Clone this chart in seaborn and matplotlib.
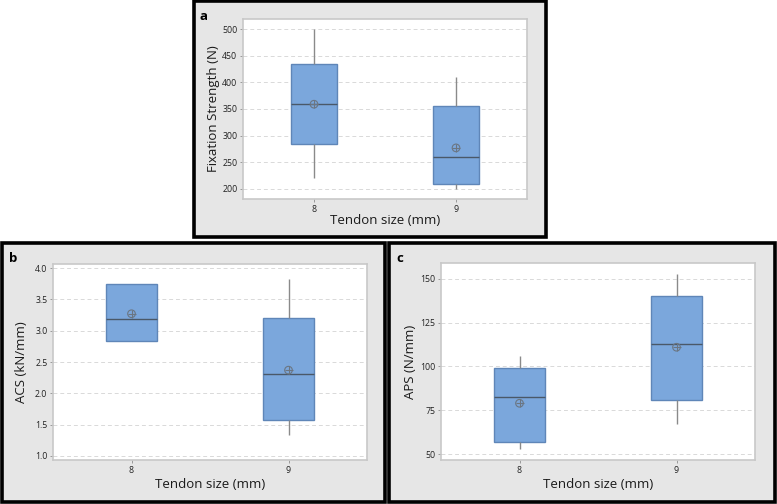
import numpy as np
import pandas as pd
import matplotlib
matplotlib.use("Agg")
import matplotlib.pyplot as plt
from matplotlib.patches import Rectangle
import seaborn as sns

# ==========================================
# DATA (five-number summaries)
# ==========================================
tendon_sizes = ["8", "9"]

# min, Q1, median, Q3, max
fixation_8 = [220, 285, 360, 435, 500]
fixation_9 = [200, 210, 260, 355, 410]
fixation_mean = [359, 277]

acs_8 = [2.83, 2.83, 3.19, 3.75, 3.75]
acs_9 = [1.33, 1.58, 2.31, 3.20, 3.83]
acs_mean = [3.27, 2.37]

aps_8 = [53, 57, 82.5, 99, 106]
aps_9 = [67, 81, 113, 140.5, 153]
aps_mean = [79, 111]

panel_letters = ["a", "b", "c"]
y_labels = ["Fixation Strength (N)", "ACS (kN/mm)", "APS (N/mm)"]
x_label = "Tendon size (mm)"
y_ticks = [[200, 250, 300, 350, 400, 450, 500],
           [1.0, 1.5, 2.0, 2.5, 3.0, 3.5, 4.0],
           [50, 75, 100, 125, 150]]
y_ticklabels = [[str(t) for t in y_ticks[0]],
                [f"{t:.1f}" for t in y_ticks[1]],
                [str(t) for t in y_ticks[2]]]

# ==========================================
# STYLE
# ==========================================
sns.set_style("white")
plt.rcParams["font.family"] = ["Open Sans", "DejaVu Sans"]

BOX_FILL = "#7ba7dc"
BOX_EDGE = "#5f86b8"
MED_COL = "#4a5868"
WHISK_COL = "#8a8a8a"
PANEL_BG = "#e6e6e6"
FRAME_COL = "#c8c8c8"

W, H = 777, 504
fig = plt.figure(figsize=(W / 100, H / 100), dpi=100)
fig.patch.set_facecolor("white")


def fx(px):
    return px / W


def fy(py):
    return 1 - py / H


# outer panels (pixel boxes: left, top, right, bottom)
outer = [(194, 1, 546, 237), (2, 243, 385, 502), (389, 243, 775, 502)]
for (l, t, r, b) in outer:
    fig.patches.append(Rectangle((fx(l), fy(b)), fx(r - l), (b - t) / H,
                                 transform=fig.transFigure, facecolor=PANEL_BG,
                                 edgecolor="black", linewidth=2.6, zorder=-1))

# plot areas
inner = [(243, 19, 527, 199), (53, 264, 367, 460), (441, 263, 755, 460)]
ylims = [(181, 519), (0.936, 4.064), (46.6, 159.1)]
letter_pos = [(200, 16), (9, 259), (396, 259)]
ylabel_x = [213, 22, 410]

datasets = [
    (fixation_8, fixation_9, fixation_mean),
    (acs_8, acs_9, acs_mean),
    (aps_8, aps_9, aps_mean),
]

for i, (g8, g9, means) in enumerate(datasets):
    l, t, r, b = inner[i]
    ax = fig.add_axes([fx(l), fy(b), fx(r - l), (b - t) / H])
    ax.set_zorder(2)
    ax.set_facecolor("white")

    df = pd.DataFrame({
        "size": [tendon_sizes[0]] * len(g8) + [tendon_sizes[1]] * len(g9),
        "value": g8 + g9,
    })

    ax.set_yticks(y_ticks[i])
    ax.set_yticklabels(y_ticklabels[i])
    for yt in y_ticks[i]:
        ax.axhline(yt, color="#d9d9d9", linestyle=(0, (4, 3)), linewidth=0.7, zorder=0)

    sns.boxplot(data=df, x="size", y="value", order=tendon_sizes, ax=ax,
                width=0.33, whis=(0, 100), showfliers=False,
                boxprops=dict(facecolor=BOX_FILL, edgecolor=BOX_EDGE, linewidth=1.0),
                medianprops=dict(color=MED_COL, linewidth=1.0),
                whiskerprops=dict(color=WHISK_COL, linewidth=1.0),
                capprops=dict(linewidth=0))

    # mean markers (circle with cross)
    xs = np.arange(len(tendon_sizes))
    ax.scatter(xs, means, s=30, facecolors="none", edgecolors="#6b7683",
               linewidths=0.8, zorder=5)
    ax.scatter(xs, means, s=30, marker="+", color="#6b7683", linewidths=0.8, zorder=5)

    ax.set_xlim(-0.5, 1.5)
    ax.set_ylim(*ylims[i])
    ax.set_xlabel("")
    ax.set_ylabel("")
    for sp in ax.spines.values():
        sp.set_color(FRAME_COL)
        sp.set_linewidth(1.2)
    ax.tick_params(axis="both", length=2, width=0.7, color="#9a9a9a",
                   labelsize=6.3, labelcolor="#222222", pad=2, direction="out")
    ax.tick_params(axis="y", left=True)
    ax.tick_params(axis="x", bottom=True)

    # labels in figure coordinates
    cy = (t + b) / 2
    fig.text(fx(ylabel_x[i]), fy(cy), y_labels[i], rotation=90, ha="center",
             va="center", fontsize=9.5, color="#1a1a1a", zorder=3)
    cx = (l + r) / 2
    xl_y = [220, 484, 484][i]
    fig.text(fx(cx), fy(xl_y), x_label, ha="center", va="center",
             fontsize=9.5, color="#1a1a1a", zorder=3)
    lx, ly = letter_pos[i]
    fig.text(fx(lx), fy(ly), panel_letters[i], ha="left", va="center",
             fontsize=9.5, fontweight="bold", color="black", zorder=3)

fig.savefig("out.png", dpi=100)
